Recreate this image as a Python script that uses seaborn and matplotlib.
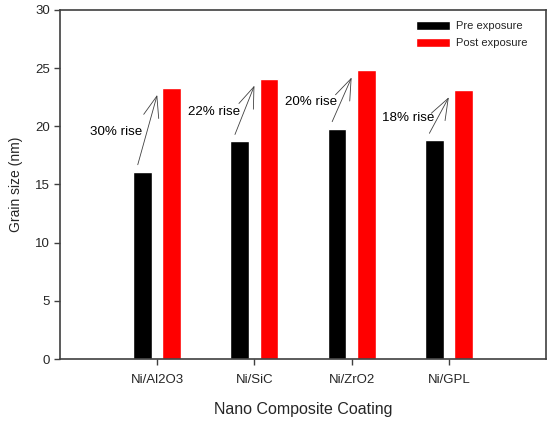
import matplotlib
matplotlib.use("Agg")
import matplotlib.pyplot as plt
import seaborn as sns
import pandas as pd

categories = ["Ni/Al2O3", "Ni/SiC", "Ni/ZrO2", "Ni/GPL"]
pre_exposure = [16.1, 18.7, 19.8, 18.8]
post_exposure = [23.3, 24.1, 24.8, 23.1]
rise_labels = ["30% rise", "22% rise", "20% rise", "18% rise"]
series_names = ["Pre exposure", "Post exposure"]
y_ticks = [0, 5, 10, 15, 20, 25, 30]

df = pd.DataFrame({
    "coating": categories * 2,
    "size": pre_exposure + post_exposure,
    "series": [series_names[0]] * len(categories) + [series_names[1]] * len(categories),
})

sns.set_style("ticks")
plt.rcParams["font.family"] = ["Liberation Sans", "DejaVu Sans"]

fig = plt.figure(figsize=(5.5, 4.22), dpi=100)
ax = fig.add_axes([60 / 550, 1 - 359 / 422, 486 / 550, 349 / 422])

sns.barplot(data=df, x="coating", y="size", hue="series", order=categories,
            hue_order=series_names, palette=["#000000", "#ff0000"],
            width=0.6, gap=0.35, saturation=1, ax=ax, legend=True)

ax.set_xlim(-1, 4)
ax.set_ylim(0, 30)
ax.set_yticks(y_ticks)
ax.set_xlabel("Nano Composite Coating", fontsize=11.5, labelpad=11)
ax.set_ylabel("Grain size (nm)", fontsize=10, labelpad=9)
ax.tick_params(axis="both", labelsize=9.5, direction="out", length=4, width=1,
               color="#404040", pad=3)
ax.tick_params(axis="x", pad=7)
for sp in ax.spines.values():
    sp.set_visible(True)
    sp.set_color("#404040")
    sp.set_linewidth(1.2)

for i, (b, r, lab) in enumerate(zip(pre_exposure, post_exposure, rise_labels)):
    ax.annotate("", xy=(i, r - 0.6), xytext=(i - 0.2, b + 0.6),
                arrowprops=dict(arrowstyle="->,head_length=1.9,head_width=0.7",
                                color="#404040", lw=0.6, shrinkA=0, shrinkB=0,
                                mutation_scale=8))
    ax.text(i - 0.42, (b + r) / 2 - 0.2, lab, fontsize=9.6,
            ha="center", va="center", color="#000000")

ax.legend(loc="upper right", bbox_to_anchor=(0.966, 0.975), frameon=False,
          fontsize=8, handlelength=3.1, handleheight=0.9, borderaxespad=0,
          borderpad=0.2, labelspacing=0.55, handletextpad=0.5)

fig.savefig("out.png", dpi=100)
